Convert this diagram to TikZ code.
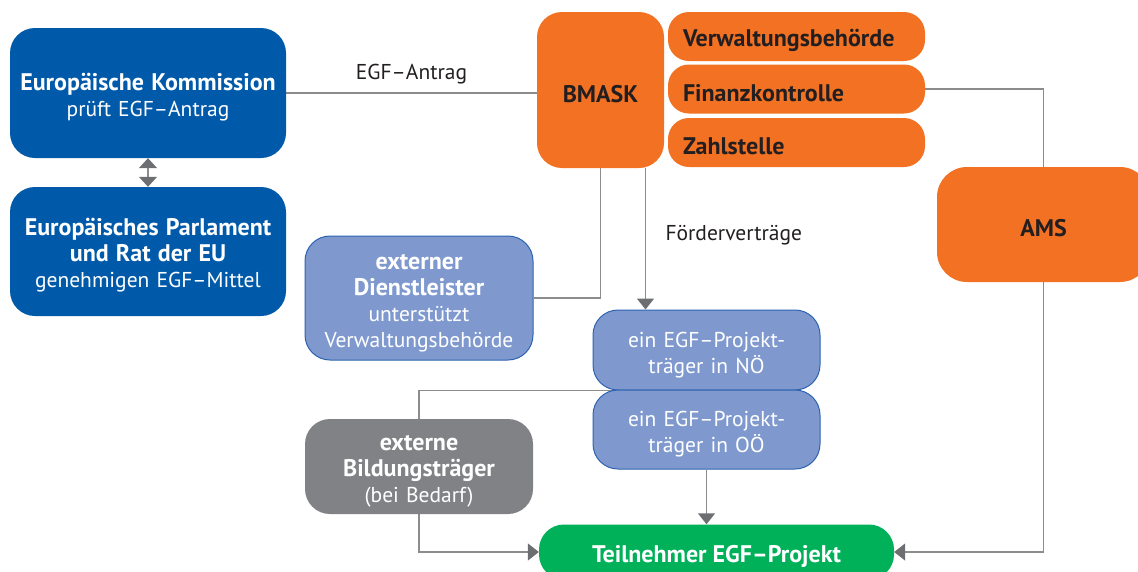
\documentclass[tikz,border=0pt]{standalone}
\usepackage{fontspec}
\setmainfont{PT Sans}
\usetikzlibrary{arrows.meta,backgrounds}

\definecolor{eublau}{HTML}{005AA9}
\definecolor{hellblau}{HTML}{7F99CF}
\definecolor{randblau}{HTML}{2D62B0}
\definecolor{amsorange}{HTML}{F37122}
\definecolor{grau}{HTML}{808285}
\definecolor{gruen}{HTML}{00B15A}
\definecolor{linie}{HTML}{8C8C8C}
\definecolor{spitze}{HTML}{6D6E71}
\definecolor{schrift}{HTML}{231F20}

\newcommand{\fett}[1]{{\fontsize{24}{26}\selectfont\bfseries #1}}

\begin{document}
\begin{tikzpicture}[x=1pt, y=-1pt, font=\fontsize{21.5}{26}\selectfont,
		kasten/.style={rounded corners=25pt, align=center, inner sep=0pt, text=white, execute at begin node={\rule{0pt}{25pt}}},
		eu/.style={kasten, fill=eublau, minimum width=276pt, minimum height=130pt, text width=270pt},
		hell/.style={kasten, fill=hellblau, draw=randblau, line width=1pt, text width=220pt},
		amt/.style={kasten, fill=amsorange, text=schrift, font=\fontsize{24}{26}\selectfont\bfseries},
		stelle/.style={amt, rounded corners=21pt, align=left, text width=227pt, inner xsep=15pt, minimum height=49pt},
		verbindung/.style={line width=1.4pt, draw=linie},
		pfeil/.style={verbindung, -{Triangle[width=17pt, length=11pt, color=spitze]}}]
		
		\useasboundingbox (0,0) rectangle (1138,571);
		
		\node [eu] (ek) at (148,93) {\fett{Europäische Kommission}\\prüft EGF–Antrag};
		\node [eu, minimum height=129pt] (ep) at (148,251.5) {\fett{Europäisches Parlament}\\\fett{und Rat der EU}\\genehmigen EGF–Mittel};
		
		\node [amt, minimum width=127pt, minimum height=156pt] (bmask) at (600.5,90) {BMASK};
		\node [stelle] (verw) at (796.5,36.5) {Verwaltungsbehörde};
		\node [stelle] (fin) at (796.5,89) {Finanzkontrolle};
		\node [stelle] (zahl) at (796.5,142.5) {Zahlstelle};
		\node [amt, rounded corners=30pt, minimum width=213pt, minimum height=115pt] (ams) at (1043.5,224.5) {AMS};
		
		\node [hell, minimum width=228pt, minimum height=124pt] (dienst) at (419,298) {\fett{externer}\\\fett{Dienstleister}\\unterstützt\\Verwaltungsbehörde};
		\node [hell, minimum width=227pt, minimum height=80pt] (noe) at (706.5,350) {ein EGF–Projekt-\\träger in NÖ};
		\node [hell, minimum width=227pt, minimum height=79pt] (ooe) at (706.5,429.5) {ein EGF–Projekt-\\träger in OÖ};
		\node [kasten, fill=grau, minimum width=228pt, minimum height=95pt, text width=220pt] (bild) at (419,466.5) {\fett{externe}\\\fett{Bildungsträger}\\(bei Bedarf)};
		\node [kasten, fill=gruen, minimum width=355pt, minimum height=55pt] (tn) at (716.5,552) {\fett{Teilnehmer EGF–Projekt}};
		
		\coordinate (fv) at ([xshift=45pt]bmask.south);
		
		\begin{scope}[on background layer]
		\draw [verbindung] (ek.east) -- node[above=5pt, text=schrift] {EGF–Antrag} (ek.east -| bmask.west);
		\draw [verbindung, {Triangle[width=18pt, length=10pt, color=spitze]}-{Triangle[width=18pt, length=10pt, color=spitze]}] (ek.south) -- (ep.north);
		\draw [verbindung] (fin.east) -| (ams.north);
		\draw [pfeil] (ams.south) |- (tn.east);
		\draw [verbindung] (bmask.south) |- (dienst.east);
		\draw [pfeil] (fv) -- node[right=16pt, text=schrift, yshift=4pt] {Förderverträge} (fv |- noe.north);
		\draw [verbindung] (noe.south) -| (bild.north);
		\draw [pfeil] (bild.south) |- (tn.west);
		\draw [pfeil] (ooe.south) -- (ooe.south |- tn.north);
		\end{scope}
	\end{tikzpicture}
\end{document}
